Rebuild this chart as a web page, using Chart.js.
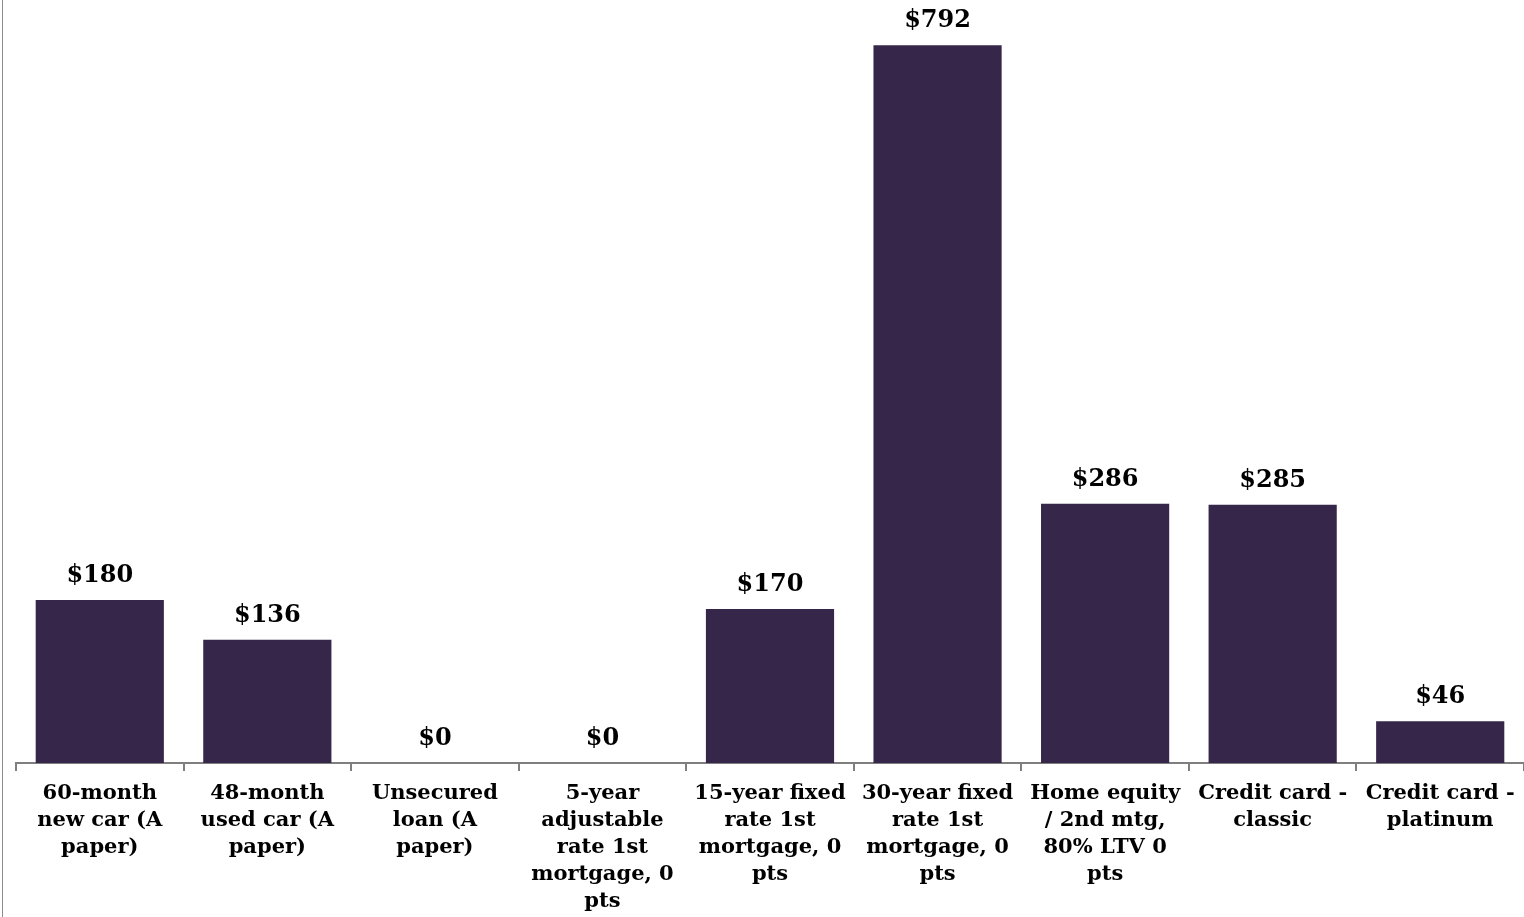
<!DOCTYPE html>
<html>
<head>
<meta charset="utf-8">
<script src="https://cdn.jsdelivr.net/npm/chart.js@4.4.0/dist/chart.umd.min.js"></script>
<style>
    html, body { margin: 0; padding: 0; background: #fff; }
    #wrap {
        position: absolute;
        left: 0;
        top: 0;
        width: 1524px;
        height: 917px;
    }
    #frame {
        position: absolute;
        left: 2px;
        top: 0;
        width: 0;
        height: 917px;
        border-left: 1px solid #8c8c8c;
    }
</style>
</head>
<body>
<div id="wrap">
    <canvas id="chart" width="1524" height="917"></canvas>
    <div id="frame"></div>
</div>
<script>
const categories = [
    ['60-month', 'new car (A', 'paper)'],
    ['48-month', 'used car (A', 'paper)'],
    ['Unsecured', 'loan (A', 'paper)'],
    ['5-year', 'adjustable', 'rate 1st', 'mortgage, 0', 'pts'],
    ['15-year fixed', 'rate 1st', 'mortgage, 0', 'pts'],
    ['30-year fixed', 'rate 1st', 'mortgage, 0', 'pts'],
    ['Home equity', '/ 2nd mtg,', '80% LTV 0', 'pts'],
    ['Credit card -', 'classic'],
    ['Credit card -', 'platinum']
]
const values = [180, 136, 0, 0, 170, 792, 286, 285, 46]

const FONT = "Georgia, 'DejaVu Serif', serif"
const BAR_COLOR = '#36264a'

const valueLabels = {
    id: 'valueLabels',
    afterDatasetsDraw(chart) {
        const { ctx } = chart
        const meta = chart.getDatasetMeta(0)
        ctx.save()
        ctx.font = `bold 24px ${FONT}`
        ctx.fillStyle = '#000'
        ctx.textAlign = 'center'
        ctx.textBaseline = 'alphabetic'
        meta.data.forEach((bar, i) => {
            ctx.fillText('$' + values[i], bar.x, bar.y - 18)
        })
        ctx.restore()
    }
}

new Chart(document.getElementById('chart'), {
    type: 'bar',
    data: {
        labels: categories,
        datasets: [
            {
                data: values,
                backgroundColor: BAR_COLOR,
                borderWidth: 0,
                categoryPercentage: 1,
                barPercentage: 0.765
            }
        ]
    },
    options: {
        animation: false,
        responsive: false,
        maintainAspectRatio: false,
        layout: {
            padding: { left: 16, right: 0, top: 0, bottom: 0 }
        },
        plugins: {
            legend: { display: false },
            tooltip: { enabled: false }
        },
        scales: {
            x: {
                afterFit(scale) {
                    scale.height = 154
                },
                grid: {
                    display: true,
                    offset: true,
                    drawOnChartArea: false,
                    drawTicks: true,
                    tickLength: 8,
                    color: '#7f7f7f',
                    lineWidth: 2
                },
                border: {
                    display: true,
                    color: '#7f7f7f',
                    width: 2
                },
                ticks: {
                    color: '#000',
                    maxRotation: 0,
                    autoSkip: false,
                    padding: 9,
                    font: {
                        family: FONT,
                        size: 21,
                        weight: 'bold',
                        lineHeight: 1.29
                    }
                }
            },
            y: {
                display: false,
                min: 0,
                max: 842
            }
        }
    },
    plugins: [valueLabels]
})
</script>
</body>
</html>
